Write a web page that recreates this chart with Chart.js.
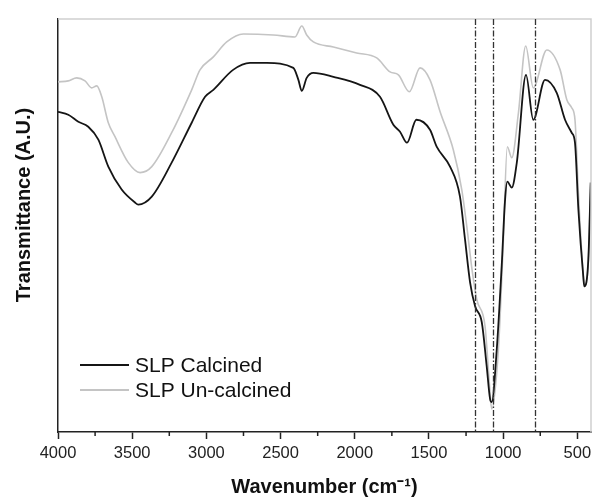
<!DOCTYPE html>
<html lang="en">
<head>
    <meta charset="UTF-8">
    <title>FTIR - SLP</title>
    <script src="https://cdn.jsdelivr.net/npm/chart.js"></script>
    <style>
        html, body { margin: 0; padding: 0; background: #fff; }
        .chart-box { width: 592px; height: 499px; position: relative; }
    </style>
</head>
<body>
    <div class="chart-box">
        <canvas id="ftirChart"></canvas>
    </div>

    <script>
        // Series names
        const seriesNames = ['SLP Calcined', 'SLP Un-calcined'];

        // SLP Calcined (wavenumber, transmittance a.u.)
        const calcinedWn = [4000, 3931, 3863, 3796, 3728, 3661, 3571, 3481, 3459, 3368, 3234, 3099, 3009, 2953, 2820, 2706, 2593, 2414, 2380, 2357, 2324, 2279, 2144, 1965, 1830, 1740, 1695, 1648, 1585, 1493, 1448, 1358, 1291, 1257, 1223, 1189, 1144, 1111, 1088, 1077, 1043, 1010, 987, 972, 942, 908, 846, 797, 718, 639, 583, 538, 516, 493, 460, 453, 426, 410];
        const calcinedT = [321, 318, 311, 306, 293, 266, 243, 230, 228, 236, 270, 310, 336, 343, 363, 370, 370, 365, 353, 342, 355, 360, 356, 348, 336, 308, 301, 290, 313, 303, 286, 266, 236, 193, 150, 126, 110, 66, 33, 30, 83, 166, 233, 251, 245, 270, 358, 313, 353, 340, 313, 300, 290, 223, 156, 146, 173, 250];

        // SLP Un-calcined
        const uncalcinedWn = [4000, 3931, 3874, 3818, 3773, 3739, 3705, 3661, 3616, 3526, 3447, 3368, 3234, 3099, 3043, 2953, 2863, 2751, 2549, 2403, 2357, 2324, 2279, 2144, 1987, 1852, 1762, 1706, 1632, 1560, 1493, 1425, 1336, 1279, 1245, 1210, 1178, 1122, 1095, 1077, 1032, 1001, 972, 942, 897, 848, 797, 706, 616, 571, 538, 516, 493, 460, 453, 426, 410];
        const uncalcinedT = [351, 352, 355, 352, 345, 347, 336, 310, 296, 270, 260, 266, 300, 343, 363, 376, 391, 399, 398, 396, 407, 398, 391, 386, 380, 375, 361, 358, 341, 365, 353, 321, 283, 243, 206, 163, 133, 106, 53, 23, 83, 183, 286, 275, 320, 387, 345, 383, 363, 333, 325, 313, 240, 156, 146, 171, 248];

        // Axis ticks and reference lines
        const xTicks = [4000, 3500, 3000, 2500, 2000, 1500, 1000, 500];
        const xMinorTicks = [3750, 3250, 2750, 2250, 1750, 1250, 750];
        const markerLines = [1190, 1071, 788];

        const toPoints = (wn, t) => wn.map((x, i) => ({ x: x, y: t[i] }));

        // Extra drawing: frame, minor ticks, dash-dot markers, legend, y title
        const decorPlugin = {
            id: 'decor',
            afterDatasetsDraw(chart) {
                const ctx = chart.ctx;
                const area = chart.chartArea;
                const xs = chart.scales.x;

                ctx.save();
                // light top/right frame
                ctx.strokeStyle = '#cfcfcf';
                ctx.lineWidth = 1.5;
                ctx.beginPath();
                ctx.moveTo(area.left, area.top);
                ctx.lineTo(area.right, area.top);
                ctx.lineTo(area.right, area.bottom);
                ctx.stroke();

                // dash-dot marker lines
                ctx.strokeStyle = '#333';
                ctx.lineWidth = 1.3;
                ctx.setLineDash([6, 2, 1.5, 2]);
                markerLines.forEach(v => {
                    const px = Math.round(xs.getPixelForValue(v)) + 0.5;
                    ctx.beginPath();
                    ctx.moveTo(px, area.top);
                    ctx.lineTo(px, area.bottom);
                    ctx.stroke();
                });
                ctx.setLineDash([]);

                // minor ticks
                ctx.strokeStyle = '#222';
                ctx.lineWidth = 1.5;
                xMinorTicks.forEach(v => {
                    const px = xs.getPixelForValue(v);
                    ctx.beginPath();
                    ctx.moveTo(px, area.bottom);
                    ctx.lineTo(px, area.bottom + 4);
                    ctx.stroke();
                });

                // legend
                ctx.font = '21px "Liberation Sans", Arial, sans-serif';
                ctx.textBaseline = 'middle';
                ctx.textAlign = 'left';
                chart.data.datasets.forEach((ds, i) => {
                    const y = 365 + i * 25;
                    ctx.strokeStyle = ds.borderColor;
                    ctx.lineWidth = 2;
                    ctx.beginPath();
                    ctx.moveTo(80, y);
                    ctx.lineTo(129, y);
                    ctx.stroke();
                    ctx.fillStyle = '#111';
                    ctx.fillText(ds.label, 135, y + 1);
                });

                // y axis title
                ctx.translate(24, 205);
                ctx.rotate(-Math.PI / 2);
                ctx.textAlign = 'center';
                ctx.font = 'bold 20px "Liberation Sans", Arial, sans-serif';
                ctx.fillStyle = '#111';
                ctx.fillText('Transmittance (A.U.)', 0, 0);
                ctx.restore();
            }
        };

        const ctx = document.getElementById('ftirChart').getContext('2d');
        const ftirChart = new Chart(ctx, {
            type: 'line',
            data: {
                datasets: [
                    {
                        label: seriesNames[0],
                        data: toPoints(calcinedWn, calcinedT),
                        borderColor: '#151515',
                        borderWidth: 1.8,
                        pointRadius: 0,
                        cubicInterpolationMode: 'monotone',
                        fill: false
                    },
                    {
                        label: seriesNames[1],
                        data: toPoints(uncalcinedWn, uncalcinedT),
                        borderColor: '#c4c4c4',
                        borderWidth: 1.6,
                        pointRadius: 0,
                        cubicInterpolationMode: 'monotone',
                        fill: false
                    }
                ]
            },
            options: {
                responsive: true,
                maintainAspectRatio: false,
                animation: false,
                clip: true,
                layout: { padding: { top: 19, right: 1, left: 0, bottom: 0 } },
                plugins: {
                    legend: { display: false },
                    tooltip: { enabled: false }
                },
                scales: {
                    x: {
                        type: 'linear',
                        reverse: true,
                        min: 408,
                        max: 4000,
                        afterBuildTicks: (s) => { s.ticks = xTicks.map(v => ({ value: v })); },
                        afterFit: (s) => { s.height = 67; s.paddingLeft = 0; s.paddingRight = 0; },
                        ticks: {
                            color: '#222',
                            padding: 5,
                            maxRotation: 0,
                            autoSkip: false,
                            callback: (v) => String(v),
                            font: { family: '"Liberation Sans", Arial, sans-serif', size: 16.5 }
                        },
                        grid: {
                            drawOnChartArea: false,
                            drawTicks: true,
                            tickLength: 7,
                            tickColor: '#222',
                            tickWidth: 1.5
                        },
                        border: { display: true, color: '#222', width: 1.5 },
                        title: {
                            display: true,
                            text: 'Wavenumber (cm⁻¹)',
                            color: '#111',
                            padding: { top: 0, bottom: 0 },
                            font: { family: '"Liberation Sans", Arial, sans-serif', size: 20, weight: 'bold' }
                        }
                    },
                    y: {
                        min: 0,
                        max: 414,
                        afterFit: (s) => { s.width = 58; },
                        ticks: { display: false },
                        grid: { drawOnChartArea: false, drawTicks: false },
                        border: { display: true, color: '#222', width: 1.5 }
                    }
                }
            },
            plugins: [decorPlugin]
        });
    </script>
</body>
</html>
